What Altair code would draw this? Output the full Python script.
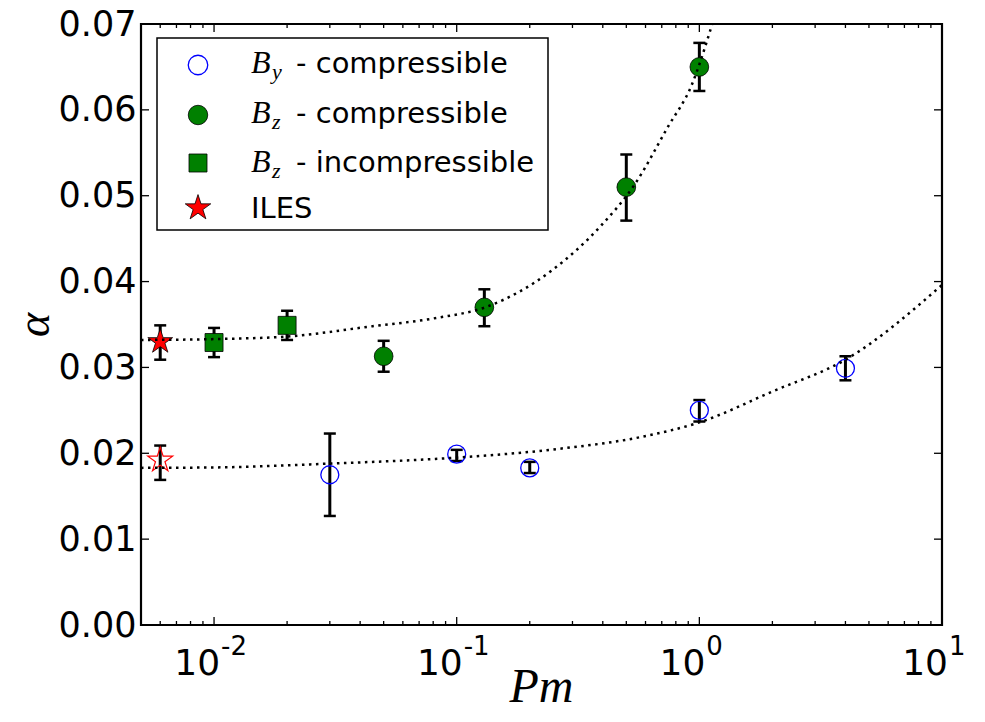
import altair as alt
import pandas as pd

# ---------------- data ----------------
BY_PM = [0.03, 0.1, 0.2, 1.0, 4.0]
BY_ALPHA = [0.0175, 0.0199, 0.0183, 0.0250, 0.0299]
BY_LO = [0.0127, 0.0191, 0.0177, 0.0237, 0.0285]
BY_HI = [0.0223, 0.0204, 0.0190, 0.0262, 0.0313]

BZC_PM = [0.05, 0.13, 0.5, 1.0]
BZC_ALPHA = [0.0313, 0.0370, 0.0510, 0.0650]
BZC_LO = [0.0295, 0.0348, 0.0471, 0.0622]
BZC_HI = [0.0331, 0.0391, 0.0548, 0.0678]

BZI_PM = [0.01, 0.02]
BZI_ALPHA = [0.0329, 0.0349]
BZI_LO = [0.0312, 0.0332]
BZI_HI = [0.0346, 0.0366]

ILES_Z_PM = [0.006]
ILES_Z_ALPHA = [0.0330]
ILES_Z_LO = [0.0309]
ILES_Z_HI = [0.0349]

ILES_Y_PM = [0.006]
ILES_Y_ALPHA = [0.0192]
ILES_Y_LO = [0.0169]
ILES_Y_HI = [0.0209]

# dotted fit curves
FIT_Z_PM = [0.005, 0.01, 0.02, 0.045, 0.08, 0.134, 0.244, 0.393, 0.538, 0.745, 0.927, 1.13]
FIT_Z_ALPHA = [0.0332, 0.0333, 0.0336, 0.0348, 0.0357, 0.0371, 0.0412, 0.0465, 0.0512, 0.0581, 0.0628, 0.0700]
FIT_Y_PM = [0.005, 0.01, 0.03, 0.1, 0.26, 0.575, 1.0, 2.0, 4.0, 10.0]
FIT_Y_ALPHA = [0.0183, 0.01835, 0.0188, 0.0195, 0.0205, 0.0219, 0.0236, 0.0272, 0.0309, 0.0396]

# axes
Y_TICKS = [0.0, 0.01, 0.02, 0.03, 0.04, 0.05, 0.06, 0.07]
X_MAJOR = [0.01, 0.1, 1.0, 10.0]
X_EXP = ["-2", "-1", "0", "1"]
X_MINOR = [0.006, 0.007, 0.008, 0.009,
           0.02, 0.03, 0.04, 0.05, 0.06, 0.07, 0.08, 0.09,
           0.2, 0.3, 0.4, 0.5, 0.6, 0.7, 0.8, 0.9,
           2, 3, 4, 5, 6, 7, 8, 9]

W, H = 801, 601
STAR = ("M0,-1L0.2245,-0.309L0.9511,-0.309L0.3633,0.118L0.5878,0.809L0,0.382"
        "L-0.5878,0.809L-0.3633,0.118L-0.9511,-0.309L-0.2245,-0.309Z")
CAP = "M-1,0L1,0"

xs = alt.Scale(type="log", domain=[0.005, 10], nice=False)
ys = alt.Scale(domain=[0, 0.07], nice=False, zero=False)

yaxis = alt.Axis(values=Y_TICKS, format=".2f", labelFontSize=35, labelFont="DejaVu Sans",
                 labelColor="black", labelPadding=5, ticks=False, domain=False, grid=False,
                 title=None, labelFlush=False, labelOverlap=False)


def X(f="pm"):
    return alt.X(f"{f}:Q", scale=xs, axis=None)


def Y(f="alpha"):
    return alt.Y(f"{f}:Q", scale=ys, axis=yaxis)


def pts(pm, a):
    return pd.DataFrame({"pm": pm, "alpha": a})


err = pd.DataFrame({
    "pm": BY_PM + BZC_PM + BZI_PM + ILES_Z_PM + ILES_Y_PM,
    "lo": BY_LO + BZC_LO + BZI_LO + ILES_Z_LO + ILES_Y_LO,
    "hi": BY_HI + BZC_HI + BZI_HI + ILES_Z_HI + ILES_Y_HI,
})

layers = []

# error bars
layers.append(alt.Chart(err).mark_rule(color="black", strokeWidth=3).encode(
    x=X(), y=Y("lo"), y2="hi:Q"))
for f in ["lo", "hi"]:
    layers.append(alt.Chart(err).mark_point(shape=CAP, size=144, filled=False, stroke="black",
                                             strokeWidth=2.5, opacity=1).encode(x=X(), y=Y(f)))

# markers
layers.append(alt.Chart(pts(BY_PM, BY_ALPHA)).mark_point(
    shape="circle", size=324, filled=False, stroke="#0000ff", strokeWidth=1.3, opacity=1
).encode(x=X(), y=Y()))
layers.append(alt.Chart(pts(BZC_PM, BZC_ALPHA)).mark_point(
    shape="circle", size=350, filled=True, fill="#008000", stroke="black", strokeWidth=0.8,
    opacity=1).encode(x=X(), y=Y()))
layers.append(alt.Chart(pts(BZI_PM, BZI_ALPHA)).mark_point(
    shape="square", size=324, filled=True, fill="#008000", stroke="black", strokeWidth=0.8,
    opacity=1).encode(x=X(), y=Y()))
layers.append(alt.Chart(pts(ILES_Z_PM, ILES_Z_ALPHA)).mark_point(
    shape=STAR, size=680, filled=True, fill="#ff0000", stroke="black", strokeWidth=0.8,
    opacity=1).encode(x=X(), y=Y()))
layers.append(alt.Chart(pts(ILES_Y_PM, ILES_Y_ALPHA)).mark_point(
    shape=STAR, size=680, filled=False, stroke="#ff0000", strokeWidth=1.2,
    opacity=1).encode(x=X(), y=Y()))

# dotted fits
for pm, a in [(FIT_Z_PM, FIT_Z_ALPHA), (FIT_Y_PM, FIT_Y_ALPHA)]:
    layers.append(alt.Chart(pts(pm, a)).mark_line(
        color="black", strokeWidth=2.5, strokeDash=[2.5, 4.5], interpolate="monotone",
        strokeCap="butt").encode(x=X(), y=Y()))

# inward ticks
ydf = pd.DataFrame({"alpha": Y_TICKS})
for x0, x1 in [(0, 8), (W - 8, W)]:
    layers.append(alt.Chart(ydf).mark_rule(color="black", strokeWidth=1.3).encode(
        y=Y(), x=alt.value(x0), x2=alt.value(x1)))
xmaj = pd.DataFrame({"pm": X_MAJOR, "exp": X_EXP})
xmin = pd.DataFrame({"pm": X_MINOR})
for df, L in [(xmaj, 8), (xmin, 4)]:
    for y0, y1 in [(H, H - L), (0, L)]:
        layers.append(alt.Chart(df).mark_rule(color="black", strokeWidth=1.3).encode(
            x=X(), y=alt.value(y0), y2=alt.value(y1)))

# x tick labels (10 with superscript exponent)
layers.append(alt.Chart(xmaj).mark_text(
    text="10", font="DejaVu Sans", fontSize=36, align="right", baseline="alphabetic", dx=6,
    color="black").encode(x=X(), y=alt.value(H + 50)))
layers.append(alt.Chart(xmaj).mark_text(
    font="DejaVu Sans", fontSize=26, align="left", baseline="alphabetic", dx=7,
    color="black").encode(x=X(), y=alt.value(H + 30), text="exp:N"))

one = pd.DataFrame({"a": [0]})

# axis titles
layers.append(alt.Chart(one).mark_text(
    text="Pm", font="Liberation Serif", fontStyle="italic", fontSize=48, align="center",
    baseline="alphabetic", color="black").encode(x=alt.value(W / 2), y=alt.value(H + 77)))
layers.append(alt.Chart(one).mark_text(
    text="α", font="Liberation Serif", fontStyle="italic", fontSize=46, align="center",
    baseline="middle", angle=270, color="black").encode(x=alt.value(-106), y=alt.value(301)))

# legend
layers.append(alt.Chart(one).mark_rect(fill="white", stroke="black", strokeWidth=1.5).encode(
    x=alt.value(16), x2=alt.value(407), y=alt.value(14), y2=alt.value(206)))
SYM_X = 57
rows_sym = [41, 91, 139, 184]
rows_base = [49, 99, 148, 194]
layers.append(alt.Chart(one).mark_point(shape="circle", size=380, filled=False, stroke="#0000ff",
                                        strokeWidth=1.3, opacity=1).encode(
    x=alt.value(SYM_X), y=alt.value(rows_sym[0])))
layers.append(alt.Chart(one).mark_point(shape="circle", size=380, filled=True, fill="#008000",
                                        stroke="black", strokeWidth=0.8, opacity=1).encode(
    x=alt.value(SYM_X), y=alt.value(rows_sym[1])))
layers.append(alt.Chart(one).mark_point(shape="square", size=324, filled=True, fill="#008000",
                                        stroke="black", strokeWidth=0.8, opacity=1).encode(
    x=alt.value(SYM_X), y=alt.value(rows_sym[2])))
layers.append(alt.Chart(one).mark_point(shape=STAR, size=720, filled=True, fill="#ff0000",
                                        stroke="black", strokeWidth=0.8, opacity=1).encode(
    x=alt.value(SYM_X), y=alt.value(rows_sym[3])))

LEG_B = ["B", "B", "B"]
LEG_SUB = ["y", "z", "z"]
LEG_TXT = ["- compressible", "- compressible", "- incompressible"]
for i in range(3):
    layers.append(alt.Chart(one).mark_text(
        text=LEG_B[i], font="Liberation Serif", fontStyle="italic", fontSize=32, align="left",
        baseline="alphabetic", color="black").encode(x=alt.value(110), y=alt.value(rows_base[i])))
    layers.append(alt.Chart(one).mark_text(
        text=LEG_SUB[i], font="Liberation Serif", fontStyle="italic", fontSize=22, align="left",
        baseline="alphabetic", color="black").encode(x=alt.value(131), y=alt.value(rows_base[i] + 6)))
    layers.append(alt.Chart(one).mark_text(
        text=LEG_TXT[i], font="DejaVu Sans", fontSize=29, align="left",
        baseline="alphabetic", color="black").encode(x=alt.value(155), y=alt.value(rows_base[i])))
layers.append(alt.Chart(one).mark_text(
    text="ILES", font="DejaVu Sans", fontSize=29, align="left",
    baseline="alphabetic", color="black").encode(x=alt.value(110), y=alt.value(rows_base[3])))

chart = alt.layer(*layers).properties(
    width=W, height=H,
    autosize=alt.AutoSizeParams(type="none"),
    padding={"left": 133, "top": 16, "right": 35, "bottom": 89},
    background="white",
).configure_view(stroke="black", strokeWidth=2.2)

chart.save("out.html", embed_options={"renderer": "svg", "actions": False})
